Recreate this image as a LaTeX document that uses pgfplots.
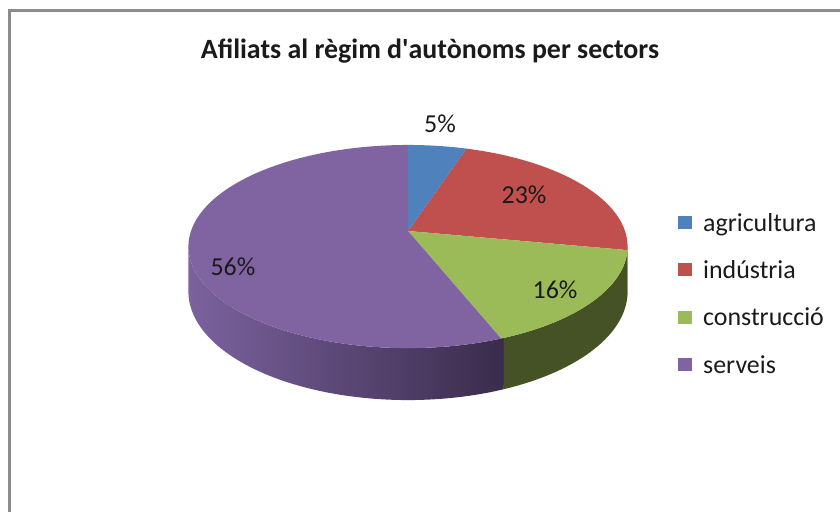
\documentclass[border=0pt]{standalone}
\usepackage{pgfplots}
\pgfplotsset{compat=1.18}
\usepackage{pgfplotstable}
\usepackage{fontspec}
\setmainfont{Carlito}

\definecolor{cBlue}{HTML}{4F81BD}
\definecolor{cRed}{HTML}{C0504D}
\definecolor{cGreen}{HTML}{9BBB59}
\definecolor{cPurple}{HTML}{8064A2}
\definecolor{cRedS}{HTML}{7F2F2D}
\definecolor{cGreenS}{HTML}{455226}
\definecolor{cPurpL}{HTML}{7B629E}
\definecolor{cPurpD}{HTML}{3A2C4C}
\definecolor{frameC}{HTML}{8C8C8C}
\definecolor{txt}{HTML}{1A1A1A}

\pgfplotstableread{
sector pct
agricultura 5
industria 23
construccio 16
serveis 56
}\piedata

\begin{document}
\pgfplotstablegetelem{0}{pct}\of\piedata\pgfmathsetmacro\pA{\pgfplotsretval}%
\pgfplotstablegetelem{1}{pct}\of\piedata\pgfmathsetmacro\pB{\pgfplotsretval}%
\pgfplotstablegetelem{2}{pct}\of\piedata\pgfmathsetmacro\pC{\pgfplotsretval}%
\pgfplotstablegetelem{3}{pct}\of\piedata\pgfmathsetmacro\pD{\pgfplotsretval}%
\pgfmathsetmacro\tA{3.6*\pA}%
\pgfmathsetmacro\tB{\tA+3.6*\pB}%
\pgfmathsetmacro\tC{\tB+3.6*\pC}%
\pgfmathsetmacro\tD{\tC+3.6*\pD}%
\pgfmathsetmacro\tCm{\tC-0.6}%
\def\silR{98.8}\def\silL{261.2}%
\begin{tikzpicture}
\begin{axis}[
  x=1bp, y=1bp, scale only axis,
  xmin=0, xmax=840, ymin=0, ymax=512,
  y dir=reverse,
  hide axis,
  /pgf/number format/assume math mode=true,
  declare function={
    PX(\t)=408+217*sin(\t)/(1+0.153*cos(\t));
    PY(\t)=231-99.2*cos(\t)/(1+0.153*cos(\t));
    DP(\t)=44/(1+0.153*cos(\t));
    TH(\u,\a,\b)=(\u<=1)*(\a+\u*(\b-\a))+(\u>1)*(\b-(\u-1)*(\b-\a));
    OF(\u,\a,\b)=(\u>1)*DP(TH(\u,\a,\b));
  },
  legend style={at={(axis cs:678,211)}, anchor=north west, draw=none, fill=none,
    font=\fontsize{26}{26}\selectfont, row sep=24bp, inner sep=0pt, text=txt},
  legend cell align=left,
  legend image code/.code={\fill[#1] (0bp,-6bp) rectangle (14bp,7bp); \path (23bp,0bp);},
]
% canvas size
\path (axis cs:0,0) rectangle (axis cs:840,512);
% frame
\draw[frameC, line width=2.5bp] (axis cs:9.5,512) -- (axis cs:9.5,10.5) -- (axis cs:840,10.5);

% sides
\addplot[draw=none, fill=cRedS, domain=0:2, samples=41, variable=\u, forget plot]
  ({PX(TH(\u,\silR,\tB))},{PY(TH(\u,\silR,\tB))+OF(\u,\silR,\tB)}) -- cycle;
\addplot[draw=none, fill=cGreenS, domain=0:2, samples=201, variable=\u, forget plot]
  ({PX(TH(\u,\tB,\tC))},{PY(TH(\u,\tB,\tC))+OF(\u,\tB,\tC)}) -- cycle;
\addplot[draw=none, left color=cPurpL, right color=cPurpD, domain=0:2, samples=201, variable=\u, forget plot]
  ({PX(TH(\u,\tCm,\silL))},{PY(TH(\u,\tCm,\silL))+OF(\u,\tCm,\silL)}) -- cycle;

% top faces
\addplot[draw=none, fill=cBlue, domain=0:\tA, samples=30, variable=\t]
  ({PX(\t)},{PY(\t)}) -- (axis cs:408,231) -- cycle;
\addlegendentry{agricultura}
\addplot[draw=none, fill=cRed, domain=\tA:\tB, samples=60, variable=\t]
  ({PX(\t)},{PY(\t)}) -- (axis cs:408,231) -- cycle;
\addlegendentry{indústria}
\addplot[draw=none, fill=cGreen, domain=\tB:\tC, samples=60, variable=\t]
  ({PX(\t)},{PY(\t)}) -- (axis cs:408,231) -- cycle;
\addlegendentry{construcció}
\addplot[draw=none, fill=cPurple, domain=\tC:\tD, samples=120, variable=\t]
  ({PX(\t)},{PY(\t)}) -- (axis cs:408,231) -- cycle;
\addlegendentry{serveis}

% labels
\begin{scope}[font=\fontsize{26}{26}\selectfont, text=txt]
\node at (axis cs:440,124) {\pgfmathprintnumber{\pA}\%};
\node at (axis cs:524,195) {\pgfmathprintnumber{\pB}\%};
\node at (axis cs:555,290) {\pgfmathprintnumber{\pC}\%};
\node at (axis cs:233,267) {\pgfmathprintnumber{\pD}\%};
\end{scope}
\node[font=\fontsize{28}{28}\selectfont\bfseries, text=txt] at (axis cs:430,51) {Afiliats al règim d\textquotesingle autònoms per sectors};
\end{axis}
\end{tikzpicture}
\end{document}
